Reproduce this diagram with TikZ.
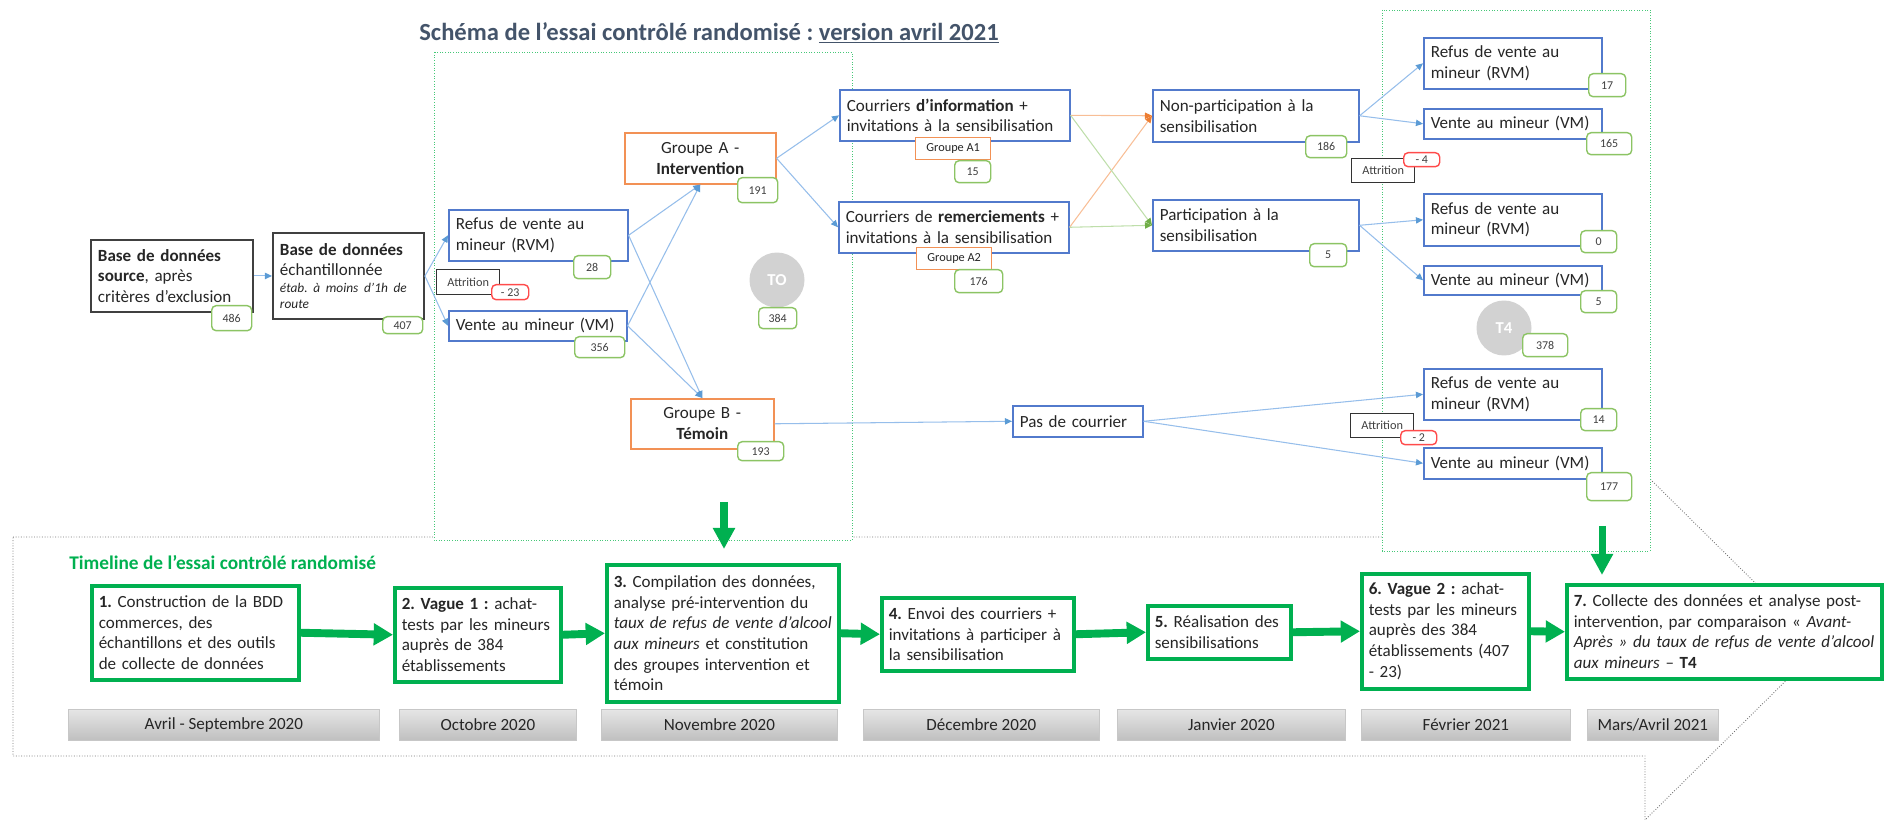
\documentclass[tikz,border=0pt]{standalone}
\usepackage{fontspec}
\setmainfont{Carlito}
\usetikzlibrary{arrows.meta}
\frenchspacing

\definecolor{titleblue}{RGB}{68,84,106}
\definecolor{boxblue}{RGB}{82,122,204}
\definecolor{boxorange}{RGB}{242,145,85}
\definecolor{badgegreen}{RGB}{140,196,100}
\definecolor{badgered}{RGB}{255,75,75}
\definecolor{tlgreen}{RGB}{0,176,80}
\definecolor{dotgreen}{RGB}{70,200,120}
\definecolor{lineblue}{RGB}{150,190,235}
\definecolor{tipblue}{RGB}{91,155,213}
\definecolor{lineorange}{RGB}{248,190,150}
\definecolor{tiporange}{RGB}{237,125,49}
\definecolor{linegreen}{RGB}{190,222,170}
\definecolor{tipgreen}{RGB}{112,173,71}
\definecolor{circgray}{RGB}{210,210,210}

\begin{document}
\begin{tikzpicture}[x=0.02cm,y=-0.02cm,
  every node/.style={font=\fontsize{9.7}{11.8}\selectfont,text=black!85,anchor=north west,inner sep=0pt},
  sz/.style 2 args={minimum width=#1*0.02cm,minimum height=#2*0.02cm,text width=(#1-14)*0.02cm},
  szc/.style 2 args={minimum width=#1*0.02cm,minimum height=#2*0.02cm},
  blkbox/.style={draw=black!75,line width=1.1pt,fill=white,align=left},
  bluebox/.style={draw=boxblue,line width=0.9pt,fill=white,align=left},
  orbox/.style={draw=boxorange,line width=0.9pt,fill=white,align=center},
  grpbox/.style={draw=boxorange,line width=0.8pt,fill=white,font=\fontsize{7}{8}\selectfont},
  badge/.style={draw=badgegreen,line width=0.8pt,rounded corners=2.5pt,fill=white,font=\fontsize{6.8}{8}\selectfont,text=black!75},
  redbadge/.style={badge,draw=badgered},
  attbox/.style={draw=black!80,line width=0.8pt,fill=white,font=\fontsize{7}{8}\selectfont,text=black!75},
  circ/.style={circle,fill=circgray,minimum size=1.1cm,anchor=center,text=white,font=\fontsize{9.5}{11}\selectfont\bfseries},
  tlbox/.style={draw=tlgreen,line width=2pt,fill=white,align=left},
  datebox/.style={draw=black!22,line width=0.4pt,top color=black!10,bottom color=black!25,text=black!85},
  gdot/.style={draw=dotgreen,densely dotted,line width=0.5pt,fill=white},
  tlframe/.style={draw=black!55,densely dotted,line width=0.5pt},
  conn/.style={draw=lineblue,line width=0.6pt,-{Triangle[width=3.6pt,length=4pt,color=tipblue]}},
  connor/.style={draw=lineorange,line width=0.6pt,-{Triangle[width=3.6pt,length=4pt,color=tiporange]}},
  conngr/.style={draw=linegreen,line width=0.6pt,-{Triangle[width=3.6pt,length=4pt,color=tipgreen]}},
  fat/.style={draw=tlgreen,line width=4.5pt,-{Triangle[width=12pt,length=11pt]}}
]
\useasboundingbox (0,0) rectangle (1884,820);

% timeline frame (big arrow shape) and the two dotted frames
\draw[tlframe] (13,537) -- (1645,537) -- (1645,474) -- (1820,647) -- (1645,820) -- (1645,756) -- (13,756) -- cycle;
\draw[gdot] (434,52) rectangle (852,540);
\draw[gdot] (1382,10) rectangle (1650,551);

\node[anchor=center,font=\fontsize{14}{16}\selectfont\bfseries,text=titleblue] (title) at (709,33)
  {Schéma de l’essai contrôlé randomisé : \underline{version avril 2021}};

% source data
\node[blkbox,sz={162}{72}] (src) at (90,239) {\textbf{Base de données}\\\textbf{source}, après\\critères d’exclusion};
\node[blkbox,sz={151}{86}] (ech) at (272,232) {\textbf{Base de données}\\échantillonnée\par
  {\fontsize{7.6}{9.3}\selectfont\itshape étab. à moins d’1h de\\route\par}};

% T0
\node[bluebox,sz={179}{51}] (rvmA) at (448,209) {Refus de vente au\\mineur (RVM)};
\node[bluebox,sz={178}{30}] (vmA) at (448,310) {Vente au mineur (VM)};
\node[orbox,sz={151}{51}] (grpA) at (624,132) {Groupe A -\\\textbf{Intervention}};
\node[orbox,sz={143}{50}] (grpB) at (630,398) {Groupe B -\\\textbf{Témoin}};
\node[circ] (t0) at (777,280) {TO};

% courriers
\node[bluebox,sz={230}{51}] (info) at (839,89) {Courriers \textbf{d’information} +\\invitations à la sensibilisation};
\node[bluebox,sz={230}{51}] (remer) at (838,201) {Courriers de \textbf{remerciements} +\\invitations à la sensibilisation};
\node[grpbox,szc={75}{22}] (ga1) at (915,137) {Groupe A1};
\node[grpbox,szc={75}{22}] (ga2) at (916,247) {Groupe A2};
\node[bluebox,sz={206}{52}] (nonpart) at (1152,89) {Non-participation à la\\sensibilisation};
\node[bluebox,sz={206}{51}] (part) at (1152,199) {Participation à la\\sensibilisation};
\node[bluebox,sz={130}{31}] (pasc) at (1012,405) {Pas de courrier};

% T4
\node[bluebox,sz={178}{51}] (rvmB) at (1423,37) {Refus de vente au\\mineur (RVM)};
\node[bluebox,sz={178}{30}] (vmB) at (1423,108) {Vente au mineur (VM)};
\node[bluebox,sz={178}{52}] (rvmC) at (1423,193) {Refus de vente au\\mineur (RVM)};
\node[bluebox,sz={178}{29}] (vmC) at (1423,265) {Vente au mineur (VM)};
\node[bluebox,sz={178}{51}] (rvmD) at (1423,368) {Refus de vente au\\mineur (RVM)};
\node[bluebox,sz={178}{31}] (vmD) at (1423,447) {Vente au mineur (VM)};
\node[circ] (t4) at (1504,328) {T4};

% attrition
\node[attbox,szc={63}{25}] (att1) at (436,269) {Attrition};
\node[redbadge,szc={37}{15}] (r1) at (491,284) {- 23};
\node[attbox,szc={63}{24}] (att2) at (1351,158) {Attrition};
\node[redbadge,szc={36}{14}] (r2) at (1403,152) {- 4};
\node[attbox,szc={63}{24}] (att3) at (1350,413) {Attrition};
\node[redbadge,szc={36}{14}] (r3) at (1400,430) {- 2};

% counts
\foreach \nm/\x/\y/\w/\h/\v in {b486/211/305/40/25/486, b407/382/316/40/17/407, b28/573/255/37/23/28,
    b356/574/336/50/21/356, b191/737/177/40/25/191, b193/737/441/46/19/193, b384/758/307/38/21/384,
    b15/954/160/36/22/15, b176/954/269/48/23/176, b186/1305/135/41/22/186, b5a/1309/243/37/23/5,
    b17/1588/73/37/23/17, b165/1586/132/45/22/165, b0/1580/230/36/22/0, b5b/1580/290/36/22/5,
    b378/1522/333/45/23/378, b14/1580/408/36/22/14, b177/1586/472/45/28/177}
  \node[badge,szc={\w}{\h}] (\nm) at (\x,\y) {\v};

\foreach \a/\b in {src.east/ech.west, ech.east/rvmA.west, ech.east/vmA.west,
    rvmA.east/grpA.south, vmA.east/grpA.south, rvmA.east/grpB.north, vmA.east/grpB.north,
    grpA.east/info.west, grpA.east/remer.west, grpB.east/pasc.west,
    nonpart.east/rvmB.west, nonpart.east/vmB.west, part.east/rvmC.west, part.east/vmC.west,
    pasc.east/rvmD.west, pasc.east/vmD.west}
  \draw[conn] (\a) -- (\b);
\draw[connor] (info.east) -- (nonpart.west);
\draw[connor] (remer.east) -- (nonpart.west);
\draw[conngr] (info.east) -- (part.west);
\draw[conngr] (remer.east) -- (part.west);

% timeline
\node[anchor=west,font=\fontsize{11}{13}\selectfont\bfseries,text=tlgreen] (tltitle) at (69,563)
  {Timeline de l’essai contrôlé randomisé};
\node[tlbox,sz={207}{94}] (s1) at (90,584) {\textbf{1.} Construction de la BDD\\commerces, des\\échantillons et des outils\\de collecte de données};
\node[tlbox,sz={166}{94}] (s2) at (393,586) {\textbf{2. Vague 1 :} achat-\\tests par les mineurs\\auprès de 384\\établissements};
\node[tlbox,sz={232}{137}] (s3) at (605,563) {\textbf{3.} Compilation des données,\\analyse pré-intervention du\\\mbox{\textit{taux de refus de vente d’alcool}}\\\textit{aux mineurs} et constitution\\des groupes intervention et\\témoin};
\node[tlbox,sz={192}{73}] (s4) at (880,596) {\textbf{4.} Envoi des courriers +\\invitations à participer à\\la sensibilisation};
\node[tlbox,sz={143}{53}] (s5) at (1146,604) {\textbf{5.} Réalisation des\\sensibilisations};
\node[tlbox,sz={167}{115}] (s6) at (1360,572) {\textbf{6. Vague 2 :} achat-\\tests par les mineurs\\auprès des 384\\établissements (407\\- 23)};
\node[tlbox,sz={315}{94}] (s7) at (1565,583) {\textbf{7.} Collecte des données et analyse post-\\intervention, par comparaison « \textit{Avant-}\\\mbox{\textit{Après » du taux de refus de vente d’alcool}}\\\textit{aux mineurs} – \textbf{T4}};

\foreach \a/\b in {s1/s2,s2/s3,s3/s4,s4/s5,s5/s6,s6/s7}
  \draw[fat] (\a.east) -- (\b.west);

\coordinate (g0) at (724,502);
\coordinate (g1) at (1602,526);
\draw[fat,line width=4pt,-{Triangle[width=12pt,length=12pt]},shorten >=0.28cm] (g0) -- (g0 |- s3.north);
\draw[fat,line width=4pt,-{Triangle[width=12pt,length=12pt]},shorten >=0.16cm] (g1) -- (g1 |- s7.north);

\foreach \nm/\x/\w/\t in {d1/68/311/Avril - Septembre 2020, d2/399/177/Octobre 2020, d3/601/236/Novembre 2020,
    d4/863/236/Décembre 2020, d5/1117/228/Janvier 2020, d6/1361/209/Février 2021, d7/1587/131/{Mars/Avril 2021}}
  \node[datebox,szc={\w}{31}] (\nm) at (\x,709) {\t};

\end{tikzpicture}
\end{document}
